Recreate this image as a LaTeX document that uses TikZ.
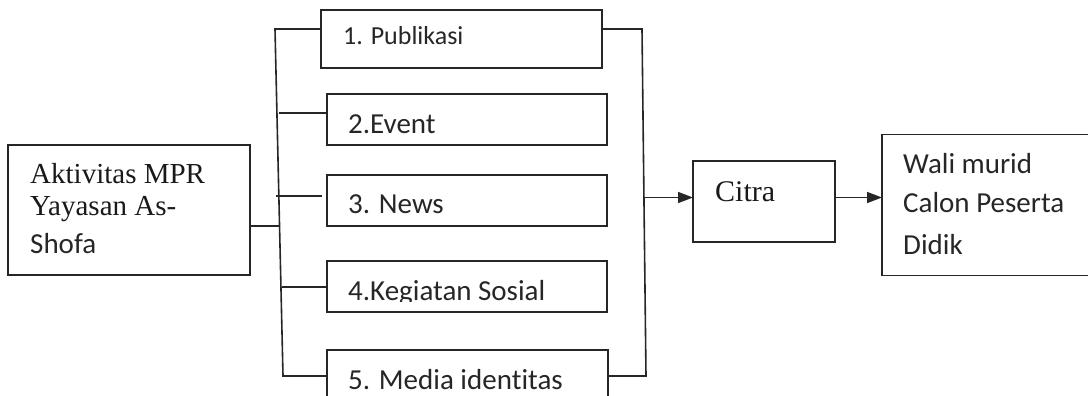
\documentclass[tikz,border=0pt]{standalone}
\usepackage{fontspec}
\setmainfont{Liberation Serif}
\newfontfamily\calfont[Ligatures=NoCommon]{Carlito}
\usetikzlibrary{arrows.meta}
\definecolor{ink}{HTML}{262626}
\begin{document}
\begin{tikzpicture}[x=1pt,y=-1pt,
  box/.style={draw=ink,line width=1.6pt,rectangle,inner sep=0pt,outer sep=0pt},
  line/.style={draw=ink,line width=1.6pt},
  arr/.style={line,-{Triangle[length=15pt,width=11pt]}},
  sans/.style={anchor=base west,inner sep=0pt,text=ink,font=\calfont\fontsize{29}{29}\selectfont},
  serif/.style={anchor=base west,inner sep=0pt,text=black!90,font=\fontsize{29}{29}\selectfont}]
\useasboundingbox (0,0) rectangle (1088,396);
% boxes
\node[box,minimum width=242pt,minimum height=130pt] (lb) at (129,210) {};
\node[box,minimum width=281pt,minimum height=58pt] (b1) at (461.5,39) {};
\node[box,minimum width=280pt,minimum height=51pt] (b2) at (467,119.5) {};
\node[box,minimum width=280pt,minimum height=51pt] (b3) at (467,200.5) {};
\node[box,minimum width=280pt,minimum height=51pt] (b4) at (467,286.5) {};
\node[box,minimum width=281pt,minimum height=52pt] (b5) at (467.5,376) {};
\node[box,minimum width=142pt,minimum height=81pt] (ci) at (764,201.5) {};
\node[box,minimum width=230pt,minimum height=141pt] (rb) at (997,205) {};
% texts
\node[serif] (lt1) at (30,183) {Aktivitas MPR};
\node[serif] (lt2) at (30,215.5) {Yayasan As-};
\node[sans] (lt3) at (30,253) {Shofa};
\node[sans,font=\calfont\fontsize{26}{26}\selectfont] (t1) at (343,45) {1. Publikasi};
\node[sans] (t2) at (348,133) {2.Event};
\node[sans] (t3) at (348,213.5) {3. News};
\begin{scope}
\clip (320,255) rectangle (620,301.5);
\node[sans] (t4) at (348,300.5) {4.Kegiatan Sosial};
\end{scope}
\node[sans] (t5) at (348,389) {5. Media identitas};
\node[serif,font=\fontsize{30}{30}\selectfont] (tc) at (715,201) {Citra};
\node[sans] (r1) at (903,173) {Wali murid};
\node[sans] (r2) at (903,212) {Calon Peserta};
\node[sans] (r3) at (903,254) {Didik};
% bus coordinates
\coordinate (j0) at (280,226);
\coordinate (bt) at (275,29);
\coordinate (bb) at (283,376);
\coordinate (j2) at (279,113);
\coordinate (j3) at (276,196);
\coordinate (j4) at (282,287);
\coordinate (rt) at (642,29);
\coordinate (rbb) at (646,376);
\coordinate (ja) at (644,197.5);
% connectors
\draw[line] (lb.east|-j0) -- (j0);
\draw[line] (b1.west|-bt) -- (bt) -- (bb) -- (b5.west);
\draw[line] (j2) -- (b2.west|-j2);
\draw[line,shorten >=5pt] (j3) -- (b3.west|-j3);
\draw[line] (j4) -- (b4.west|-j4);
\draw[line] (b1.east|-rt) -- (rt) -- (rbb) -- (b5.east|-rbb);
\draw[arr] (ja) -- (ci.west|-ja);
\draw[arr] (ci.east|-ja) -- (rb.west|-ja);
\end{tikzpicture}
\end{document}
